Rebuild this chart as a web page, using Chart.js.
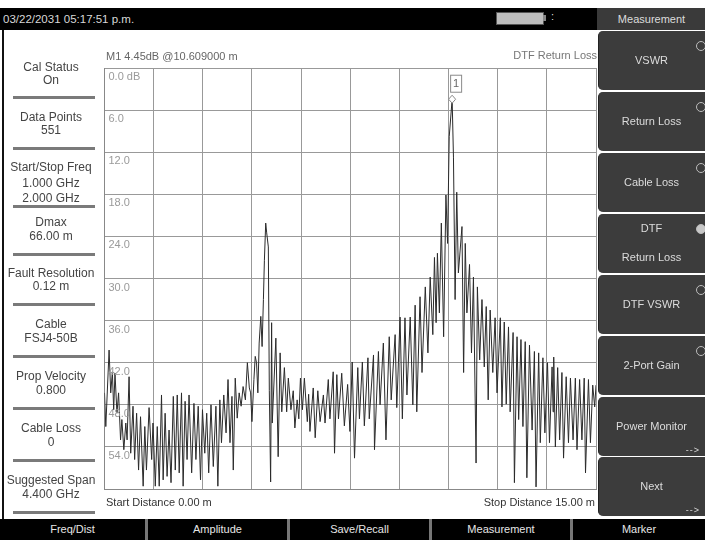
<!DOCTYPE html>
<html>
<head>
<meta charset="utf-8">
<script src="https://cdn.jsdelivr.net/npm/chart.js@4.4.0/dist/chart.umd.min.js"></script>
<style>
  body { margin: 0; background: #fff; font-family: "Liberation Sans", Arial, sans-serif; }
  #wrap { position: relative; width: 705px; height: 540px; overflow: hidden; background: #fff; }
  #trace { position: absolute; left: 0; top: 0; }
  .abs { position: absolute; white-space: nowrap; }
  .side { left: 1px; width: 100px; text-align: center; font-size: 12px; color: #444; height: 14px; line-height: 14px; }
  .sep { left: 13px; width: 82px; height: 3px; background: #7a7a7a; }
  .btn { left: 598px; width: 110px; background: #3c3c3c; border-radius: 5px 0 0 5px; border-left: 1px solid #222; }
  .btxt { left: 598px; width: 107px; text-align: center; font-size: 11px; color: #dcdcdc; height: 14px; line-height: 14px; }
  .dot { width: 8px; height: 8px; border-radius: 50%; border: 1px solid #bdbdbd; left: 696px; }
  .tab { top: 519px; height: 21px; background: #000; color: #e6e6e6; font-size: 11px; line-height: 21px; text-align: center; }
</style>
</head>
<body>
<div id="wrap">
  <div class="abs" style="left:0;top:8px;width:597px;height:22px;background:#000;"></div>
  <div class="abs" style="left:3px;top:12px;font-size:11.5px;color:#d8d8d8;line-height:14px;">03/22/2031 05:17:51 p.m.</div>
  <div class="abs" style="left:496px;top:12px;width:46px;height:11px;background:#bdbdbd;border:1px solid #555;"></div>
  <div class="abs" style="left:543px;top:15px;width:3px;height:6px;background:#888;"></div>
  <div class="abs" style="left:551px;top:10px;font-size:11px;color:#ddd;">:</div>
  <div class="abs" style="left:597px;top:8px;width:108px;height:22px;background:#3a3a3a;"></div>
  <div class="abs btxt" style="top:12px;">Measurement</div>
  <div class="abs" style="left:2px;top:30px;width:2px;height:489px;background:#111;"></div>

  <canvas id="trace" width="705" height="540"></canvas>

  <div class="abs" style="left:106px;top:50px;font-size:11px;color:#666;">M1 4.45dB @10.609000 m</div>
  <div class="abs" style="right:108px;top:49px;font-size:11px;color:#777;">DTF Return Loss</div>
  <div class="abs" style="left:106px;top:496px;font-size:11px;color:#333;">Start Distance 0.00 m</div>
  <div class="abs" style="right:110px;top:496px;font-size:11px;color:#333;">Stop Distance 15.00 m</div>
</div>

<script>
const distM = [
  0.00,0.04,0.14,0.19,0.24,0.28,0.32,0.38,0.43,0.49,0.53,0.59,0.65,0.69,0.75,0.80,0.87,0.92,0.98,1.04,
  1.10,1.18,1.23,1.28,1.36,1.44,1.48,1.55,1.61,1.67,1.74,1.79,1.85,1.91,1.97,2.03,2.10,2.16,2.22,2.28,
  2.35,2.40,2.46,2.52,2.58,2.66,2.73,2.79,2.86,2.93,2.99,3.06,3.12,3.18,3.25,3.32,3.40,3.46,3.52,3.57,
  3.64,3.71,3.77,3.83,3.89,3.93,3.99,4.05,4.11,4.17,4.23,4.30,4.36,4.42,4.46,4.50,4.56,4.60,4.64,4.68,
  4.72,4.77,4.81,4.85,4.88,4.92,4.95,5.00,5.03,5.07,5.10,5.12,5.23,5.30,5.36,5.41,5.49,5.56,5.61,5.69,
  5.76,5.81,5.88,5.93,5.98,6.04,6.10,6.19,6.23,6.27,6.37,6.43,6.51,6.58,6.68,6.73,6.83,6.88,6.98,7.02,
  7.09,7.14,7.24,7.32,7.42,7.49,7.56,7.63,7.73,7.78,7.87,7.93,8.04,8.08,8.21,8.24,8.36,8.41,8.51,8.59,
  8.69,8.75,8.87,8.92,9.02,9.09,9.17,9.23,9.33,9.41,9.48,9.53,9.63,9.69,9.79,9.87,9.94,10.02,10.07,10.12,
  10.16,10.22,10.28,10.35,10.42,10.47,10.52,10.61,10.65,10.70,10.75,10.80,10.91,10.96,11.01,11.06,11.14,11.20,11.26,11.34,
  11.38,11.45,11.52,11.59,11.65,11.71,11.77,11.85,11.92,11.98,12.08,12.13,12.20,12.26,12.33,12.38,12.47,12.51,12.59,12.64,
  12.71,12.77,12.84,12.89,12.97,13.05,13.12,13.17,13.25,13.30,13.38,13.44,13.52,13.58,13.66,13.69,13.71,13.76,13.83,13.89,
  13.96,14.01,14.09,14.16,14.22,14.30,14.37,14.42,14.50,14.57,14.64,14.68,14.77,14.83,14.90,14.96,15.00
];
const returnLossDb = [
  46.3,51.1,40.2,46.3,43.3,48.7,43.5,49.2,46.3,53.0,50.1,54.4,50.6,53.0,44.0,54.9,48.2,55.8,49.2,57.3,
  49.7,59.6,51.1,57.3,48.4,55.8,50.6,59.6,51.1,59.6,46.6,58.7,49.2,58.2,51.6,59.1,46.8,57.3,46.6,57.7,
  46.3,59.6,47.5,55.8,46.6,57.7,47.8,55.8,48.2,58.7,48.7,54.9,49.2,57.7,48.0,56.8,48.2,59.6,47.3,53.4,
  46.6,52.0,44.4,53.4,46.8,57.3,44.2,49.9,46.3,48.2,45.4,47.3,42.0,45.6,46.3,50.4,44.4,41.1,42.0,46.3,
  39.2,35.4,39.7,33.0,27.4,22.1,23.5,25.5,46.0,59.0,36.3,50.6,38.5,55.4,40.6,49.0,42.7,49.0,44.2,48.7,
  46.0,51.3,47.3,50.0,44.2,48.7,44.2,50.4,46.5,51.8,45.6,52.7,46.0,50.4,46.6,50.6,44.4,50.0,43.3,54.9,
  43.7,50.0,43.5,51.0,45.1,51.8,41.9,55.6,42.7,50.0,41.9,51.0,41.3,50.0,40.9,54.4,40.4,48.0,39.2,53.0,
  38.3,47.3,38.0,48.4,35.5,50.0,35.6,46.6,35.5,48.0,33.8,49.0,32.6,43.4,31.2,40.6,29.8,38.0,27.0,36.3,
  26.4,34.9,22.1,38.3,18.1,25.0,9.8,4.45,12.7,33.0,17.7,29.2,22.6,43.4,25.0,34.9,28.0,40.6,29.8,56.3,
  31.2,41.6,33.0,42.6,34.0,47.3,34.5,43.4,35.6,46.3,35.6,48.3,36.2,47.9,36.9,49.0,37.7,59.1,38.3,50.1,
  38.7,51.1,39.0,58.4,39.5,51.6,40.4,59.7,40.6,53.4,41.3,52.0,42.0,53.4,42.6,49.0,41.2,54.0,42.7,53.0,
  43.4,55.6,44.0,53.4,44.2,53.0,44.2,54.4,44.4,53.0,44.2,57.7,44.4,53.4,45.2,48.3,45.2
];
const yLabels = ['0.0 dB', '6.0', '12.0', '18.0', '24.0', '30.0', '36.0', '42.0', '48.0', '54.0'];
const yTicks = [0, 6, 12, 18, 24, 30, 36, 42, 48, 54];
const markerDist = 10.609;
const markerDb = 4.45;

const sideItems = [
  ['Cal Status', 67], ['On', 80],
  ['Data Points', 117], ['551', 130],
  ['Start/Stop Freq', 167], ['1.000 GHz', 183], ['2.000 GHz', 198],
  ['Dmax', 222], ['66.00 m', 236],
  ['Fault Resolution', 273], ['0.12 m', 286],
  ['Cable', 324], ['FSJ4-50B', 338],
  ['Prop Velocity', 376], ['0.800', 390],
  ['Cable Loss', 428], ['0', 442],
  ['Suggested Span', 480], ['4.400 GHz', 494]
];
const sideSeps = [97, 148, 206, 254, 304, 356, 408, 460, 512];
const menuButtons = ['VSWR', 'Return Loss', 'Cable Loss', 'DTF|Return Loss', 'DTF VSWR', '2-Port Gain', 'Power Monitor', 'Next'];
const menuTops = [31, 92, 153, 214, 275, 336, 397, 457];
const tabs = ['Freq/Dist', 'Amplitude', 'Save/Recall', 'Measurement', 'Marker'];
const tabLefts = [0, 148, 290, 432, 573];
const tabRights = [145, 287, 429, 570, 705];

const wrap = document.getElementById('wrap');
function addDiv(cls, style, text) {
  const d = document.createElement('div');
  d.className = 'abs ' + cls;
  d.style.cssText = style;
  if (text !== undefined) d.textContent = text;
  wrap.appendChild(d);
  return d;
}
sideItems.forEach(it => addDiv('side', 'top:' + (it[1] - 7) + 'px;', it[0]));
sideSeps.forEach(y => addDiv('sep', 'top:' + (y - 1) + 'px;'));

menuButtons.forEach((name, i) => {
  const top = menuTops[i];
  addDiv('btn', 'top:' + top + 'px;height:59px;');
  if (name.indexOf('|') >= 0) {
    const parts = name.split('|');
    addDiv('btxt', 'top:' + (top + 7) + 'px;', parts[0]);
    addDiv('btxt', 'top:' + (top + 36) + 'px;', parts[1]);
    addDiv('dot', 'top:' + (top + 10) + 'px;background:#c8c8c8;');
  } else {
    addDiv('btxt', 'top:' + (top + 22) + 'px;', name);
    if (i < 6) addDiv('dot', 'top:' + (top + 10) + 'px;');
  }
  if (i >= 6) addDiv('btxt', 'top:' + (top + 46) + 'px;text-align:right;width:102px;font-size:9px;letter-spacing:1px;', '-->');
});

addDiv('', 'left:0;top:519px;width:705px;height:21px;background:#777;');
tabs.forEach((t, i) => {
  addDiv('tab', 'left:' + tabLefts[i] + 'px;width:' + (tabRights[i] - tabLefts[i]) + 'px;', t);
});

const insideLabels = {
  id: 'insideLabels',
  afterDraw(chart) {
    const ctx = chart.ctx;
    const ys = chart.scales.y;
    const xs = chart.scales.x;
    ctx.save();
    ctx.font = '11px "Liberation Sans", Arial, sans-serif';
    ctx.fillStyle = '#9a9a9a';
    ctx.textBaseline = 'middle';
    yTicks.forEach((v, i) => {
      ctx.fillText(yLabels[i], xs.left + 4, ys.getPixelForValue(v) + 9);
    });
    // marker M1
    const px = xs.getPixelForValue(markerDist);
    const py = ys.getPixelForValue(markerDb);
    ctx.strokeStyle = '#8a8a8a';
    ctx.lineWidth = 1;
    ctx.beginPath();
    ctx.moveTo(px, py - 4); ctx.lineTo(px + 3.5, py); ctx.lineTo(px, py + 4); ctx.lineTo(px - 3.5, py); ctx.closePath();
    ctx.fillStyle = '#fff';
    ctx.fill();
    ctx.stroke();
    ctx.fillStyle = '#fff';
    ctx.fillRect(px - 1.5, py - 24, 11, 17);
    ctx.strokeRect(px - 1.5, py - 24, 11, 17);
    ctx.fillStyle = '#666';
    ctx.textAlign = 'center';
    ctx.fillText('1', px + 4, py - 15);
    ctx.restore();
  }
};

new Chart(document.getElementById('trace'), {
  type: 'line',
  data: {
    datasets: [{
      data: distM.map((d, i) => ({ x: d, y: returnLossDb[i] })),
      borderColor: '#2b2b2b',
      borderWidth: 1,
      pointRadius: 0,
      tension: 0
    }]
  },
  options: {
    responsive: false,
    animation: false,
    devicePixelRatio: 1,
    layout: { padding: { left: 104.5, top: 68, right: 109, bottom: 51 } },
    plugins: { legend: { display: false }, tooltip: { enabled: false } },
    scales: {
      x: {
        type: 'linear', min: 0, max: 15,
        ticks: { display: false, stepSize: 1.5 },
        grid: { color: '#999', drawTicks: false },
        border: { color: '#888' }
      },
      y: {
        min: 0, max: 60, reverse: true,
        ticks: { display: false, stepSize: 6 },
        grid: { color: '#999', drawTicks: false },
        border: { color: '#888' }
      }
    }
  },
  plugins: [insideLabels]
});
</script>
</body>
</html>
